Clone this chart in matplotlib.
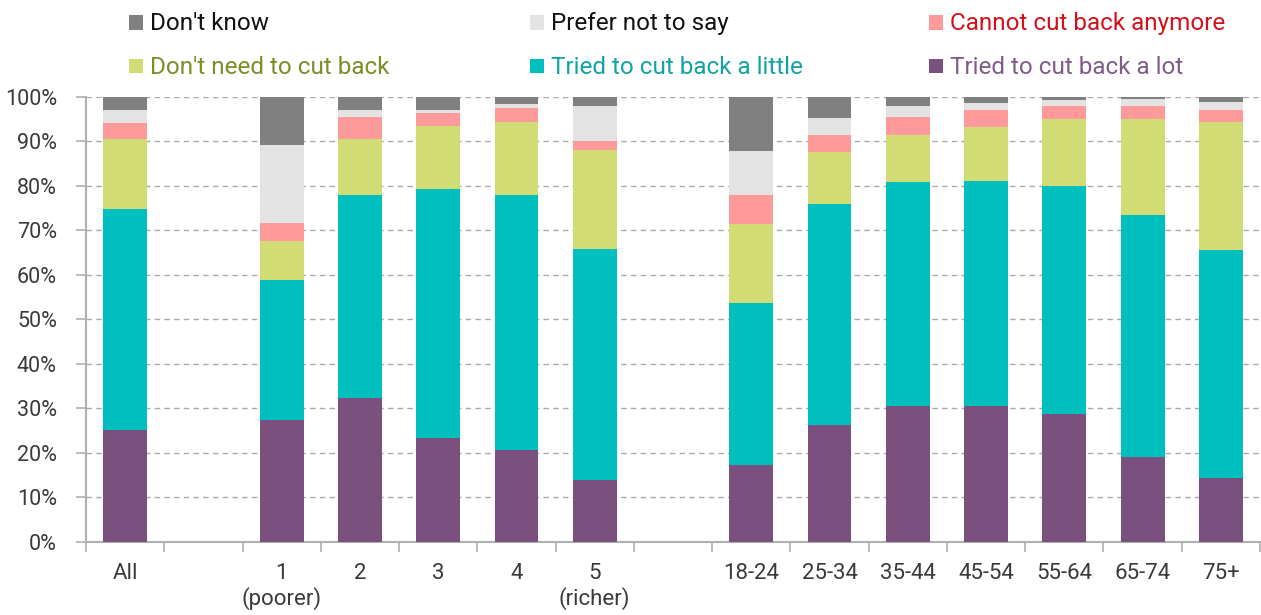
import numpy as np
import matplotlib.pyplot as plt
from matplotlib.patches import Rectangle

plt.rcParams['font.family'] = ['Roboto', 'DejaVu Sans']

# categories, split into groups (a blank slot goes between groups)
groups = [
    ['All'],
    ['1\n(poorer)', '2', '3', '4', '5\n(richer)'],
    ['18-24', '25-34', '35-44', '45-54', '55-64', '65-74', '75+'],
]

# shares in %, bottom segment first
tried_lot = [25.2, 27.3, 32.3, 23.4, 20.6, 13.9, 17.3, 26.3, 30.4, 30.6, 28.6, 19.1, 14.4]
tried_little = [49.6, 31.5, 45.5, 55.9, 57.2, 51.9, 36.3, 49.7, 50.4, 50.4, 51.4, 54.4, 51.1]
dont_need = [15.6, 8.8, 12.8, 14.1, 16.6, 22.2, 17.9, 11.6, 10.7, 12.2, 15.1, 21.6, 28.9]
cannot_cut = [3.7, 4.1, 4.8, 3.0, 3.1, 2.0, 6.4, 3.7, 3.9, 3.8, 2.7, 2.9, 2.6]
prefer_not = [2.9, 17.5, 1.6, 0.5, 0.9, 7.9, 9.9, 4.0, 2.4, 1.5, 1.5, 1.5, 1.7]
dont_know = [3.0, 10.8, 3.0, 3.1, 1.6, 2.1, 12.2, 4.7, 2.2, 1.5, 0.7, 0.5, 1.3]

series = [
    ("Tried to cut back a lot", tried_lot, '#7a507e', '#7f5c88'),
    ("Tried to cut back a little", tried_little, '#00bfbf', '#12a3a3'),
    ("Don't need to cut back", dont_need, '#d1dc75', '#7f8c28'),
    ("Cannot cut back anymore", cannot_cut, '#fe9a9a', '#d5101a'),
    ("Prefer not to say", prefer_not, '#e3e3e3', '#111111'),
    ("Don't know", dont_know, '#808080', '#111111'),
]

# slot positions with a gap between groups
labels, pos = [], []
slot = 0
for g in groups:
    for lab in g:
        labels.append(lab)
        pos.append(slot)
        slot += 1
    slot += 1
n_slots = slot - 1
pos = np.array(pos)

W, H = 1261, 615
fig = plt.figure(figsize=(W / 100, H / 100), dpi=100)
ax = fig.add_axes([86 / W, (H - 541.7) / H, (1260 - 86) / W, (541.7 - 96.7) / H])

bottom = np.zeros(len(pos))
for name, vals, col, _ in series:
    ax.bar(pos, vals, width=0.56, bottom=bottom, color=col, zorder=3, linewidth=0)
    bottom += np.array(vals)

ax.set_xlim(-0.5, n_slots - 0.5)
ax.set_ylim(0, 100)
ax.set_yticks(np.arange(0, 101, 10))
ax.set_yticklabels([f"{v}%" for v in range(0, 101, 10)])
ax.yaxis.grid(True, color='#aaaaaa', linestyle=(0, (4, 3)), linewidth=1, zorder=0)

ax.set_xticks(pos)
ax.set_xticklabels(labels)
ax.set_xticks(np.arange(-0.5, n_slots, 1), minor=True)
ax.tick_params(axis='x', which='major', length=0, pad=15)
ax.tick_params(axis='x', which='minor', length=7, color='#b0b0b0', width=1.2)
ax.tick_params(axis='y', length=7, color='#b0b0b0', width=1.2, pad=14)
ax.tick_params(axis='y', labelsize=15.5, labelcolor='#3a3a3a')
ax.tick_params(axis='x', labelsize=16, labelcolor='#3a3a3a')

for s in ['top', 'right']:
    ax.spines[s].set_visible(False)
for s in ['left', 'bottom']:
    ax.spines[s].set_color('#b0b0b0')
    ax.spines[s].set_linewidth(1.5)

# legend drawn by hand: 3 columns x 2 rows
legend_order = [5, 4, 3, 2, 1, 0]
col_x = [129, 530, 929]
row_base = [30, 73.5]
for i, k in enumerate(legend_order):
    name, _, col, tcol = series[k]
    cx = col_x[i % 3]
    by = row_base[i // 3]
    fig.add_artist(Rectangle((cx / W, (H - by + 0.5) / H), 14 / W, 14 / H,
                             transform=fig.transFigure, color=col, linewidth=0))
    fig.text((cx + 21) / W, (H - by) / H, name, color=tcol, fontsize=17.5,
             va='baseline', ha='left')

fig.savefig('out.png', dpi=100)
